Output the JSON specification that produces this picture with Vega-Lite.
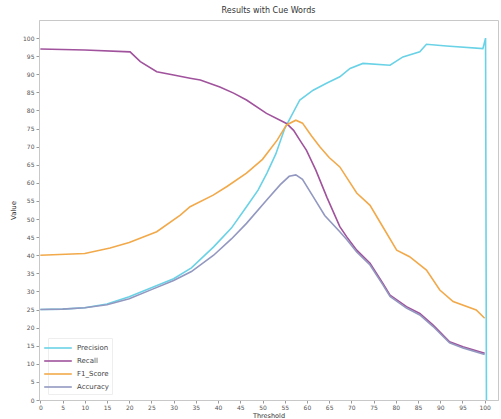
{
  "$schema": "https://vega.github.io/schema/vega-lite/v6.json",
  "width": 459,
  "height": 380,
  "autosize": {"type": "none"},
  "padding": {"left": 39, "top": 20, "right": 3, "bottom": 19},
  "background": "white",
  "title": {"text": "Results with Cue Words", "fontSize": 8, "fontWeight": "normal", "color": "#333", "offset": 5, "font": "DejaVu Sans"},
  "data": {"values": [
    {"x": 0, "metric": "Precision", "value": 25},
    {"x": 5, "metric": "Precision", "value": 25.1},
    {"x": 10, "metric": "Precision", "value": 25.5},
    {"x": 15, "metric": "Precision", "value": 26.5},
    {"x": 20, "metric": "Precision", "value": 28.5},
    {"x": 25, "metric": "Precision", "value": 31},
    {"x": 30, "metric": "Precision", "value": 33.5},
    {"x": 34, "metric": "Precision", "value": 36.5},
    {"x": 39, "metric": "Precision", "value": 42.3},
    {"x": 43, "metric": "Precision", "value": 47.5},
    {"x": 46.4, "metric": "Precision", "value": 53.4},
    {"x": 49, "metric": "Precision", "value": 58},
    {"x": 51, "metric": "Precision", "value": 62.7},
    {"x": 53, "metric": "Precision", "value": 68},
    {"x": 55, "metric": "Precision", "value": 75},
    {"x": 56.5, "metric": "Precision", "value": 78.5},
    {"x": 58.4, "metric": "Precision", "value": 82.9},
    {"x": 61.4, "metric": "Precision", "value": 85.6},
    {"x": 64.4, "metric": "Precision", "value": 87.5},
    {"x": 67.4, "metric": "Precision", "value": 89.3},
    {"x": 69.7, "metric": "Precision", "value": 91.6},
    {"x": 72.6, "metric": "Precision", "value": 93},
    {"x": 78.7, "metric": "Precision", "value": 92.5},
    {"x": 81.6, "metric": "Precision", "value": 94.8},
    {"x": 85.4, "metric": "Precision", "value": 96.2},
    {"x": 86.9, "metric": "Precision", "value": 98.3},
    {"x": 91.4, "metric": "Precision", "value": 97.8},
    {"x": 99.6, "metric": "Precision", "value": 97.1},
    {"x": 100.2, "metric": "Precision", "value": 100},
    {"x": 100.4, "metric": "Precision", "value": 0},

    {"x": 0, "metric": "Recall", "value": 97},
    {"x": 10, "metric": "Recall", "value": 96.7},
    {"x": 20.2, "metric": "Recall", "value": 96.2},
    {"x": 22.5, "metric": "Recall", "value": 93.5},
    {"x": 26.2, "metric": "Recall", "value": 90.7},
    {"x": 30, "metric": "Recall", "value": 89.8},
    {"x": 33.7, "metric": "Recall", "value": 88.9},
    {"x": 36, "metric": "Recall", "value": 88.4},
    {"x": 40.4, "metric": "Recall", "value": 86.5},
    {"x": 43.5, "metric": "Recall", "value": 84.8},
    {"x": 46.4, "metric": "Recall", "value": 82.9},
    {"x": 50.9, "metric": "Recall", "value": 79.2},
    {"x": 55.4, "metric": "Recall", "value": 76.4},
    {"x": 57, "metric": "Recall", "value": 74.5},
    {"x": 58.4, "metric": "Recall", "value": 71.8},
    {"x": 59.9, "metric": "Recall", "value": 69},
    {"x": 62, "metric": "Recall", "value": 63.5},
    {"x": 64.5, "metric": "Recall", "value": 56},
    {"x": 67.4, "metric": "Recall", "value": 47.9},
    {"x": 69, "metric": "Recall", "value": 45},
    {"x": 71.2, "metric": "Recall", "value": 41.4},
    {"x": 74.2, "metric": "Recall", "value": 37.8},
    {"x": 77.1, "metric": "Recall", "value": 32.2},
    {"x": 78.7, "metric": "Recall", "value": 29},
    {"x": 82.4, "metric": "Recall", "value": 25.8},
    {"x": 85.4, "metric": "Recall", "value": 23.9},
    {"x": 88.4, "metric": "Recall", "value": 20.7},
    {"x": 92.1, "metric": "Recall", "value": 16.1},
    {"x": 95.1, "metric": "Recall", "value": 14.7},
    {"x": 100, "metric": "Recall", "value": 12.9},

    {"x": 0, "metric": "F1_Score", "value": 40},
    {"x": 10, "metric": "F1_Score", "value": 40.5},
    {"x": 15.7, "metric": "F1_Score", "value": 42},
    {"x": 20, "metric": "F1_Score", "value": 43.5},
    {"x": 26.2, "metric": "F1_Score", "value": 46.5},
    {"x": 31.5, "metric": "F1_Score", "value": 51.1},
    {"x": 33.7, "metric": "F1_Score", "value": 53.4},
    {"x": 38.9, "metric": "F1_Score", "value": 56.6},
    {"x": 42, "metric": "F1_Score", "value": 59},
    {"x": 46.4, "metric": "F1_Score", "value": 62.7},
    {"x": 50, "metric": "F1_Score", "value": 66.5},
    {"x": 53.3, "metric": "F1_Score", "value": 71.8},
    {"x": 55.4, "metric": "F1_Score", "value": 76},
    {"x": 57.5, "metric": "F1_Score", "value": 77.3},
    {"x": 59, "metric": "F1_Score", "value": 76.5},
    {"x": 61, "metric": "F1_Score", "value": 73},
    {"x": 62.9, "metric": "F1_Score", "value": 70},
    {"x": 65, "metric": "F1_Score", "value": 67},
    {"x": 67.4, "metric": "F1_Score", "value": 64.4},
    {"x": 71.2, "metric": "F1_Score", "value": 57.2},
    {"x": 74.2, "metric": "F1_Score", "value": 53.8},
    {"x": 77.1, "metric": "F1_Score", "value": 47.8},
    {"x": 80.2, "metric": "F1_Score", "value": 41.4},
    {"x": 83.1, "metric": "F1_Score", "value": 39.6},
    {"x": 86.9, "metric": "F1_Score", "value": 35.9},
    {"x": 89.9, "metric": "F1_Score", "value": 30.4},
    {"x": 92.9, "metric": "F1_Score", "value": 27.2},
    {"x": 98.1, "metric": "F1_Score", "value": 24.9},
    {"x": 100, "metric": "F1_Score", "value": 22.6},

    {"x": 0, "metric": "Accuracy", "value": 25},
    {"x": 5, "metric": "Accuracy", "value": 25.1},
    {"x": 10, "metric": "Accuracy", "value": 25.5},
    {"x": 15, "metric": "Accuracy", "value": 26.3},
    {"x": 20, "metric": "Accuracy", "value": 28},
    {"x": 25, "metric": "Accuracy", "value": 30.5},
    {"x": 30, "metric": "Accuracy", "value": 33},
    {"x": 34, "metric": "Accuracy", "value": 35.5},
    {"x": 39, "metric": "Accuracy", "value": 40},
    {"x": 43, "metric": "Accuracy", "value": 44.5},
    {"x": 46.4, "metric": "Accuracy", "value": 48.8},
    {"x": 50.9, "metric": "Accuracy", "value": 55.2},
    {"x": 54, "metric": "Accuracy", "value": 59.5},
    {"x": 56, "metric": "Accuracy", "value": 61.8},
    {"x": 57.5, "metric": "Accuracy", "value": 62.2},
    {"x": 59, "metric": "Accuracy", "value": 61},
    {"x": 61.4, "metric": "Accuracy", "value": 56.2},
    {"x": 64, "metric": "Accuracy", "value": 51},
    {"x": 67.4, "metric": "Accuracy", "value": 46.5},
    {"x": 69, "metric": "Accuracy", "value": 44.3},
    {"x": 71.2, "metric": "Accuracy", "value": 40.9},
    {"x": 74.2, "metric": "Accuracy", "value": 37.3},
    {"x": 77.1, "metric": "Accuracy", "value": 31.8},
    {"x": 78.7, "metric": "Accuracy", "value": 28.6},
    {"x": 82.4, "metric": "Accuracy", "value": 25.4},
    {"x": 85.4, "metric": "Accuracy", "value": 23.5},
    {"x": 88.4, "metric": "Accuracy", "value": 20.3},
    {"x": 92.1, "metric": "Accuracy", "value": 15.8},
    {"x": 95.1, "metric": "Accuracy", "value": 14.4},
    {"x": 100, "metric": "Accuracy", "value": 12.6}
  ]},
  "mark": {"type": "line", "strokeWidth": 1.6, "clip": true},
  "encoding": {
    "x": {
      "field": "x", "type": "quantitative",
      "scale": {"domain": [-0.3, 103], "nice": false, "zero": false},
      "axis": {"values": [0,5,10,15,20,25,30,35,40,45,50,55,60,65,70,75,80,85,90,95,100], "title": "Threshold", "titleFontSize": 6.5, "titleFontWeight": "normal", "titleBaseline": "alphabetic", "titleY": 17, "labelPadding": 1}
    },
    "y": {
      "field": "value", "type": "quantitative",
      "scale": {"domain": [0, 105], "nice": false},
      "axis": {"values": [0,5,10,15,20,25,30,35,40,45,50,55,60,65,70,75,80,85,90,95,100], "title": "Value", "titleFontSize": 7, "titleFontWeight": "normal", "titlePadding": 6}
    },
    "color": {
      "field": "metric", "type": "nominal",
      "scale": {"domain": ["Precision", "Recall", "F1_Score", "Accuracy"], "range": ["#6ad2e6", "#a0529c", "#f2a94a", "#9298c0"]},
      "legend": {"title": null, "orient": "none", "legendX": 9, "legendY": 318, "symbolType": "M-2.3,0H2.3", "symbolSize": 144, "symbolStrokeWidth": 1.6, "labelFontSize": 7, "labelOffset": 12, "rowPadding": 2, "labelColor": "#444", "padding": 3, "strokeColor": "#eeeeee", "fillColor": "white"}
    }
  },
  "config": {
    "view": {"stroke": "#c8c8c8", "strokeWidth": 1},
    "font": "DejaVu Sans",
    "axis": {"grid": false, "labelFontSize": 6, "labelColor": "#555", "tickColor": "#999", "tickSize": 3, "domainColor": "#c8c8c8", "titleColor": "#333", "labelPadding": 2}
  }
}
